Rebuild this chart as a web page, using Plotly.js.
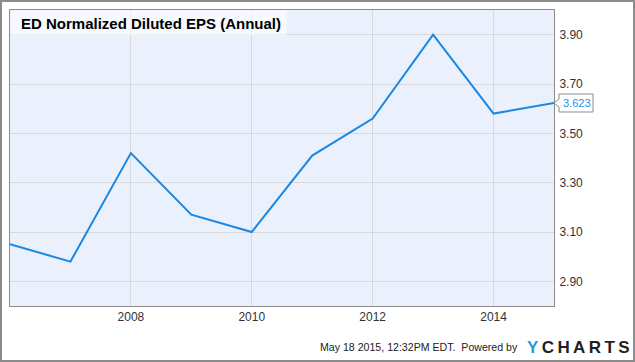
<!DOCTYPE html>
<html>
<head>
<meta charset="utf-8">
<script src="https://cdn.plot.ly/plotly-3.0.1.min.js"></script>
<style>
html,body{margin:0;padding:0;background:#fff;}
#wrap{position:relative;width:635px;height:362px;}
#chart{width:635px;height:362px;}
#frame{position:absolute;left:0;top:0;width:631px;height:358px;border:2px solid #8c8c8c;pointer-events:none;}
</style>
</head>
<body>
<div id="wrap"><div id="chart"></div><div id="frame"></div></div>
<script>
const years = [2006, 2007, 2008, 2009, 2010, 2011, 2012, 2013, 2014, 2015];
const eps = [3.05, 2.98, 3.42, 3.17, 3.10, 3.41, 3.56, 3.90, 3.58, 3.623];
const yTicks = [2.90, 3.10, 3.30, 3.50, 3.70, 3.90];
const xTicks = [2008, 2010, 2012, 2014];
const chartTitle = "ED Normalized Diluted EPS (Annual)";
const lastLabel = "3.623";
const footerText = "May 18 2015, 12:32PM EDT.  Powered by";

const FONT = "Arial, 'Liberation Sans', sans-serif";
const lineColor = "#1a87e3";
const lastVal = eps[eps.length - 1];

const trace = {
  x: years, y: eps, type: "scatter", mode: "lines",
  line: {color: lineColor, width: 2},
  hoverinfo: "skip"
};

const layout = {
  width: 635, height: 362,
  margin: {l: 10, r: 81, t: 10, b: 56, pad: 0},
  paper_bgcolor: "#ffffff",
  plot_bgcolor: "#eaf1fc",
  showlegend: false,
  font: {family: FONT, size: 12, color: "#333"},
  xaxis: {
    range: [2006, 2015], tickvals: xTicks, ticktext: xTicks.map(String),
    showgrid: true, gridcolor: "#d9d9d9", gridwidth: 1,
    zeroline: false, showline: true, linecolor: "#8c8c8c", linewidth: 1, mirror: true,
    ticks: "", ticklabelstandoff: 0,
    tickfont: {family: FONT, size: 12, color: "#333"}
  },
  yaxis: {
    side: "right", range: [2.8, 4.0], tickvals: yTicks, tickformat: ".2f",
    showgrid: true, gridcolor: "#d9d9d9", gridwidth: 1,
    zeroline: false, showline: true, linecolor: "#8c8c8c", linewidth: 1, mirror: true,
    ticks: "", ticklabelstandoff: 2,
    tickfont: {family: FONT, size: 12, color: "#333"}
  },
  shapes: [
    {type: "rect", xref: "paper", yref: "paper", x0: 0.001, x1: 0.5086, y0: 0.9139, y1: 0.998,
     fillcolor: "rgba(255,255,255,0.55)", line: {width: 0}, layer: "above"},
    {type: "path", xref: "paper", yref: "y", xsizemode: "pixel", ysizemode: "pixel",
     xanchor: 1, yanchor: lastVal,
     path: "M0,0 L5,4 L5,9 L39,9 L39,-9 L5,-9 L5,-4 Z",
     fillcolor: "#ffffff", line: {color: "#8c8c8c", width: 1}, layer: "above"}
  ],
  annotations: [
    {text: "<b>" + chartTitle + "</b>", xref: "paper", yref: "paper", x: 0, y: 1,
     xanchor: "left", yanchor: "middle", xshift: 9, yshift: -13, showarrow: false,
     font: {family: FONT, size: 15, color: "#000"}},
    {text: lastLabel, xref: "paper", yref: "y", x: 1, y: lastVal,
     xanchor: "left", yanchor: "middle", xshift: 7, showarrow: false,
     font: {family: FONT, size: 11, color: "#1a8fe6"}},
    {text: footerText, xref: "paper", yref: "paper", x: (520 - 10) / 544, y: (306 - 347) / 296,
     xanchor: "right", yanchor: "middle", showarrow: false,
     font: {family: FONT, size: 10.6, color: "#222"}},
    {text: "<b><span style='color:#1e9be8'>Y</span>\u2009C\u2009H\u2009A\u2009R\u2009T\u2009S</b>",
     xref: "paper", yref: "paper", x: (525 - 10) / 544, y: (306 - 347.5) / 296,
     xanchor: "left", yanchor: "middle", showarrow: false,
     font: {family: FONT, size: 17, color: "#1f1f1f"}}
  ]
};

Plotly.newPlot("chart", [trace], layout, {displayModeBar: false, staticPlot: true});
</script>
</body>
</html>
